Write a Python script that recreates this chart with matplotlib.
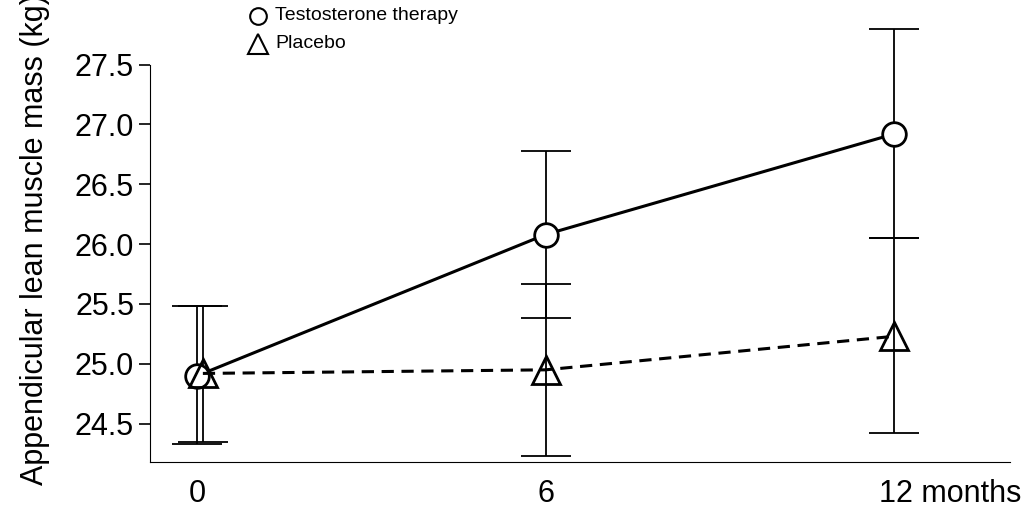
import matplotlib
matplotlib.use("Agg")
import matplotlib.pyplot as plt
from matplotlib.lines import Line2D
import matplotlib.transforms as mtrans

months = [0, 6, 12]
testo = [24.90, 26.08, 26.92]
testo_lo = [24.33, 25.38, 26.05]
testo_hi = [25.48, 26.78, 27.80]
plac = [24.92, 24.95, 25.23]
plac_lo = [24.35, 24.23, 24.42]
plac_hi = [25.48, 25.67, 26.05]
yticks = [24.5, 25.0, 25.5, 26.0, 26.5, 27.0, 27.5]
xlabels = ["0", "6", "12 months"]

plt.rcParams['font.family'] = ['Liberation Sans', 'DejaVu Sans']
fig = plt.figure(figsize=(10.24, 5.09), dpi=100)
ax = fig.add_axes([0.1465, 0.0923, 0.84, 0.875])

px = [m + 0.1 if i == 0 else m for i, m in enumerate(months)]
ax.errorbar(months, testo, yerr=[[t - l for t, l in zip(testo, testo_lo)], [h - t for t, h in zip(testo, testo_hi)]],
            fmt='none', ecolor='black', capsize=18, elinewidth=1.3, capthick=1.3)
ax.errorbar(px, plac, yerr=[[t - l for t, l in zip(plac, plac_lo)], [h - t for t, h in zip(plac, plac_hi)]],
            fmt='none', ecolor='black', capsize=18, elinewidth=1.3, capthick=1.3)
ax.plot(months, testo, color='black', lw=2.2, marker='o', ms=17, mfc='white', mew=2)
ax.plot(px, plac, color='black', lw=2.2, ls=(0, (4, 2.5)), marker='^', ms=20, mfc='none', mew=2)

ax.set_xlim(-0.81, 14.0)
ax.set_ylim(24.18, 27.9)
ax.spines['top'].set_visible(False)
ax.spines['right'].set_visible(False)
ax.spines['left'].set_bounds(24.18, 27.5)
ax.set_yticks(yticks)
ax.set_yticklabels([f"{v:.1f}" for v in yticks], fontsize=22)
ax.tick_params(axis='y', length=8, width=1.2)
ax.set_xticks(months)
ax.set_xticklabels(xlabels, fontsize=22)
ax.tick_params(axis='x', length=0, pad=12)
lab = ax.get_xticklabels()[2]
lab.set_ha('left')
lab.set_transform(lab.get_transform() + mtrans.ScaledTranslation(-15/100, 0, fig.dpi_scale_trans))
ax.set_ylabel("Appendicular lean muscle mass (kg)", fontsize=22, labelpad=18)

fig.add_artist(Line2D([258/1024], [1-16/509], marker='o', ms=12, mfc='white', mec='black', mew=1.5, transform=fig.transFigure))
fig.add_artist(Line2D([258/1024], [1-44/509], marker='^', ms=14, mfc='none', mec='black', mew=1.5, transform=fig.transFigure))
fig.text(275/1024, 1-16/509, "Testosterone therapy", fontsize=14, va='center')
fig.text(275/1024, 1-44/509, "Placebo", fontsize=14, va='center')

fig.savefig("out.png", dpi=100)
